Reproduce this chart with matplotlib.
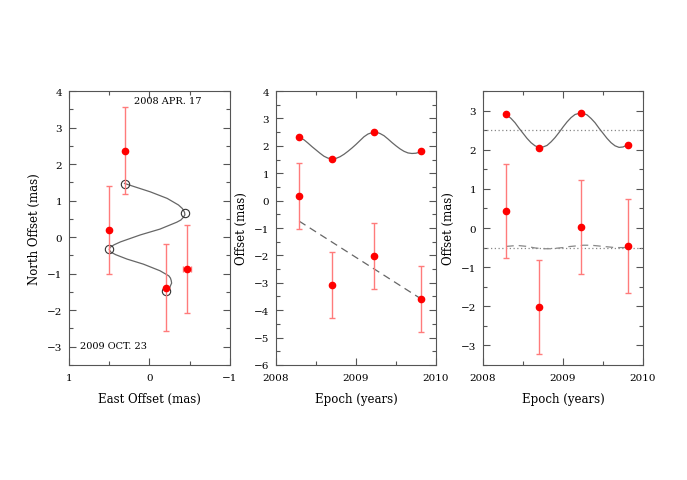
import matplotlib
matplotlib.use("Agg")
import matplotlib.pyplot as plt
from matplotlib.ticker import MultipleLocator

plt.rcParams['font.family'] = ['DejaVu Serif']
plt.rcParams['font.size'] = 7.5

# ---- panel 1: sky positions (east, north)
east_obs = [0.31, 0.50, -0.20, -0.46]
north_obs = [2.37, 0.20, -1.38, -0.87]
north_err = [1.2, 1.2, 1.2, 1.2]
east_err = [0.0, 0.0, 0.0, 0.05]
east_mod = [0.31, -0.435, 0.50, -0.20]
north_mod = [1.45, 0.66, -0.33, -1.47]
# model track
track_e = [0.31, 0.20, -0.01, -0.22, -0.36, -0.41, -0.435, -0.44, -0.42, -0.39,
           -0.34, -0.13, 0.115, 0.36, 0.44, 0.49, 0.50, 0.48, 0.42, 0.28,
           0.075, -0.13, -0.24, -0.26, -0.27, -0.275, -0.26, -0.25, -0.22]
track_n = [1.47, 1.39, 1.24, 1.06, 0.88, 0.78, 0.68, 0.61, 0.54, 0.47,
           0.41, 0.22, 0.06, -0.13, -0.21, -0.28, -0.34, -0.41, -0.48, -0.60,
           -0.74, -0.92, -1.06, -1.12, -1.19, -1.26, -1.33, -1.40, -1.47]

# ---- panel 2 and 3: offset vs epoch
epochs = [2008.29, 2008.70, 2009.225, 2009.81]
p2_obs = [0.17, -3.07, -2.01, -3.59]
p2_top = [2.31, 1.53, 2.50, 1.80]
p3_obs = [0.43, -2.03, 0.03, -0.45]
p3_top = [2.90, 2.05, 2.93, 2.13]
obs_err = [1.2, 1.2, 1.2, 1.2]

curve_t = [2008.29, 2008.35, 2008.40, 2008.45, 2008.50, 2008.55, 2008.60, 2008.65,
           2008.70, 2008.75, 2008.80, 2008.85, 2008.90, 2008.95, 2009.00, 2009.05,
           2009.10, 2009.15, 2009.22, 2009.25, 2009.30, 2009.35, 2009.40, 2009.45,
           2009.50, 2009.55, 2009.60, 2009.65, 2009.70, 2009.75, 2009.81]
p2_curve = [2.31, 2.22, 2.10, 1.97, 1.85, 1.73, 1.62, 1.55,
            1.53, 1.54, 1.60, 1.69, 1.80, 1.92, 2.05, 2.19,
            2.33, 2.43, 2.50, 2.50, 2.45, 2.37, 2.25, 2.12,
            2.00, 1.89, 1.80, 1.74, 1.72, 1.73, 1.78]
p3_curve = [2.90, 2.80, 2.69, 2.55, 2.42, 2.29, 2.18, 2.10,
            2.06, 2.07, 2.11, 2.20, 2.31, 2.44, 2.58, 2.71,
            2.82, 2.90, 2.94, 2.93, 2.89, 2.80, 2.69, 2.55,
            2.42, 2.29, 2.18, 2.10, 2.06, 2.07, 2.13]
p3_low = [-0.47, -0.46, -0.45, -0.45, -0.46, -0.47, -0.49, -0.51,
          -0.52, -0.53, -0.53, -0.53, -0.52, -0.51, -0.50, -0.48,
          -0.47, -0.46, -0.45, -0.44, -0.44, -0.44, -0.45, -0.46,
          -0.47, -0.48, -0.49, -0.50, -0.50, -0.50, -0.50]
p2_trend_t = [2008.29, 2009.81]
p2_trend = [-0.75, -3.58]
p3_ref = [2.5, -0.5]

ecol = '#ff7b7b'
lcol = '#666666'

fig = plt.figure(figsize=(6.87, 4.81), dpi=100)
ax1 = fig.add_axes([0.1004, 0.2391, 0.2344, 0.5696])
ax2 = fig.add_axes([0.4017, 0.2391, 0.2329, 0.5696])
ax3 = fig.add_axes([0.7031, 0.2391, 0.2329, 0.5696])


def style(ax, xmaj, xmin, ymaj, ymin):
    ax.xaxis.set_major_locator(MultipleLocator(xmaj))
    ax.xaxis.set_minor_locator(MultipleLocator(xmin))
    ax.yaxis.set_major_locator(MultipleLocator(ymaj))
    ax.yaxis.set_minor_locator(MultipleLocator(ymin))
    ax.tick_params(which='both', direction='in', top=True, right=True,
                   color='#555555', labelsize=7.5)
    ax.tick_params(which='major', length=5, width=0.8)
    ax.tick_params(which='minor', length=3, width=0.8)
    ax.tick_params(axis='x', pad=6)
    ax.tick_params(axis='y', pad=5)
    for s in ax.spines.values():
        s.set_color('#555555')
        s.set_linewidth(0.8)


# panel 1
ax1.plot(track_e, track_n, color=lcol, lw=0.9)
ax1.errorbar(east_obs, north_obs, yerr=north_err, xerr=east_err, fmt='o',
             color='red', ms=4.5, ecolor=ecol, elinewidth=1, capsize=2.5, zorder=3)
ax1.plot(east_mod, north_mod, 'o', mfc='none', mec='#333333', ms=6, mew=0.8)
ax1.text(-0.23, 3.73, '2008 APR. 17', ha='center', va='center', fontsize=7)
ax1.text(0.45, -2.98, '2009 OCT. 23', ha='center', va='center', fontsize=7)
ax1.set_xlim(1, -1)
ax1.set_ylim(-3.5, 4)
style(ax1, 1, 0.5, 1, 0.5)
ax1.set_xlabel('East Offset (mas)', fontsize=8.5, labelpad=7)
ax1.set_ylabel('North Offset (mas)', fontsize=8.5, labelpad=4)

# panel 2
ax2.plot(curve_t, p2_curve, color=lcol, lw=0.9)
ax2.plot(p2_trend_t, p2_trend, color=lcol, lw=0.9, dashes=(6, 4))
ax2.plot(epochs, p2_top, 'o', color='red', ms=4.5, zorder=3)
ax2.errorbar(epochs, p2_obs, yerr=obs_err, fmt='o', color='red', ms=4.5,
             ecolor=ecol, elinewidth=1, capsize=2.5, zorder=3)
ax2.set_xlim(2008, 2010)
ax2.set_ylim(-6, 4)
style(ax2, 1, 0.5, 1, 0.5)
ax2.set_xticks([2008, 2009, 2010])
ax2.set_xticklabels(['2008', '2009', '2010'])
ax2.set_xlabel('Epoch (years)', fontsize=8.5, labelpad=7)
ax2.set_ylabel('Offset (mas)', fontsize=8.5, labelpad=4)

# panel 3
for v in p3_ref:
    ax3.axhline(v, color='#888888', lw=0.9, ls=(0, (1, 2)))
ax3.plot(curve_t, p3_curve, color=lcol, lw=0.9)
ax3.plot(curve_t, p3_low, color='#888888', lw=0.9, dashes=(6, 4))
ax3.plot(epochs, p3_top, 'o', color='red', ms=4.5, zorder=3)
ax3.errorbar(epochs, p3_obs, yerr=obs_err, fmt='o', color='red', ms=4.5,
             ecolor=ecol, elinewidth=1, capsize=2.5, zorder=3)
ax3.set_xlim(2008, 2010)
ax3.set_ylim(-3.5, 3.5)
style(ax3, 1, 0.5, 1, 0.5)
ax3.set_xticks([2008, 2009, 2010])
ax3.set_xticklabels(['2008', '2009', '2010'])
ax3.set_xlabel('Epoch (years)', fontsize=8.5, labelpad=7)
ax3.set_ylabel('Offset (mas)', fontsize=8.5, labelpad=4)

fig.savefig('out.png', dpi=100)
